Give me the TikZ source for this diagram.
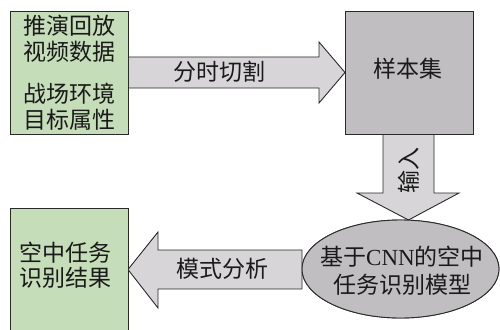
\documentclass[tikz,border=0pt]{standalone}
\usetikzlibrary{shapes.geometric}
\usepackage{fontspec}
\setmainfont{Noto Sans CJK SC}
\newfontfamily\latfont{Liberation Serif}
\definecolor{boxgreen}{HTML}{C5DDB9}
\definecolor{boxgray}{HTML}{C0BEC0}
\definecolor{arrowgray}{HTML}{D7D5D7}
\definecolor{edgecol}{HTML}{2A2A2A}
\definecolor{textcol}{HTML}{1A1A1A}
\begin{document}
\begin{tikzpicture}[x=1pt,y=-1pt,
  greenbox/.style={draw=edgecol, line width=0.9pt, fill=boxgreen, inner sep=0pt, minimum width=118pt, align=center, text=textcol},
  graybox/.style={draw=edgecol, line width=0.9pt, fill=boxgray, inner sep=0pt, minimum width=128pt, minimum height=123pt},
  model/.style={ellipse, draw=edgecol, line width=0.9pt, fill=boxgray, inner sep=0pt, minimum width=197pt, minimum height=98pt, align=center},
  blockarrow/.style={draw=edgecol, line width=0.9pt, fill=arrowgray, line join=miter},
  lbl/.style={inner sep=0pt, text=textcol, font=\fontsize{23}{26}\selectfont},
]
\useasboundingbox (0,0) rectangle (500,329);
\fill[white] (0,0) rectangle (500,329);
\begin{scope}
\clip (0,0) rectangle (500,329);
% nodes (shapes)
\node[greenbox, minimum height=123pt] (src) at (69,72.5) {};
\node[graybox] (samp) at (409,72.5) {};
\node[greenbox, minimum height=126pt] (res) at (69,271) {};
\node[model] (mdl) at (400.5,269) {};
% block arrows
\draw[blockarrow] (128,57) -- (319,57) -- (319,42) -- (345,72.5) -- (319,103) -- (319,88) -- (128,88) -- cycle;
\draw[blockarrow] (383,134) -- (383,193) -- (357,193) -- (408.5,220) -- (459,193) -- (434,193) -- (434,134) -- cycle;
\draw[blockarrow] (302,250) -- (158,250) -- (158,232) -- (128,269.5) -- (158,308) -- (158,289) -- (302,289) -- cycle;
% redraw borders on top
\node[greenbox, minimum height=123pt, font=\fontsize{23}{26.5}\selectfont] at (src) {推演回放\\视频数据\\[15pt]战场环境\\目标属性};
\node[graybox] at (samp) {};
\node[greenbox, minimum height=126pt] at (res) {};
\node[model] at (mdl) {};
% texts
\node[lbl] (samptxt) at (407.5,69) {样本集};
\node[lbl, align=center, font=\fontsize{23}{25.5}\selectfont] (restxt) at (65,265) {空中任务\\识别结果};
\node[lbl, align=center, font=\fontsize{23}{28}\selectfont] (mdltxt) at (402,271) {基于{\latfont CNN}的空中\\任务识别模型};
\node[lbl] (t1) at (219,72) {分时切割};
\node[lbl] (t2) at (222,269) {模式分析};
\node[lbl, rotate=90] (t3) at (409,170) {输入};
\end{scope}
\end{tikzpicture}
\end{document}
